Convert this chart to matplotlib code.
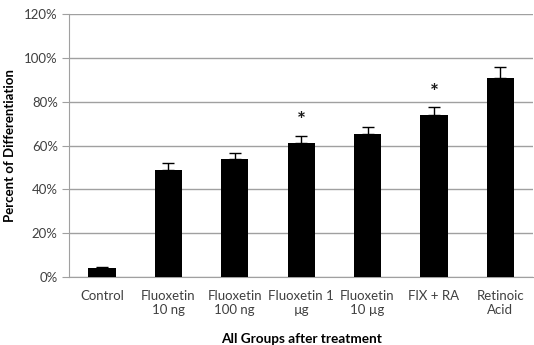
import numpy as np
import matplotlib.pyplot as plt

# Data
groups = ['Control', 'Fluoxetin\n10 ng', 'Fluoxetin\n100 ng', 'Fluoxetin 1\nµg',
          'Fluoxetin\n10 µg', 'FlX + RA', 'Retinoic\nAcid']
percent = [4.0, 48.9, 53.9, 61.0, 65.2, 74.1, 90.9]
errors = [0.5, 3.0, 2.9, 3.2, 3.3, 3.7, 4.9]
star_groups = ['Fluoxetin 1\nµg', 'FlX + RA']
star_pos = [71.4, 83.9]
yticks = [0, 20, 40, 60, 80, 100, 120]

plt.rcParams['font.family'] = ['Lato', 'DejaVu Sans']

fig = plt.figure(figsize=(5.34, 3.45), dpi=100)
ax = fig.add_axes([0.129, 0.197, 0.87, 0.762])

x = np.arange(len(groups))
ax.bar(x, percent, width=0.41, color='black', zorder=3)
ax.errorbar(x, percent, yerr=[np.zeros(len(errors)), errors], fmt='none',
            ecolor='black', elinewidth=1, capsize=4, capthick=1, zorder=4)

for g, s in zip(star_groups, star_pos):
    ax.text(groups.index(g), s, '*', ha='center', va='center', fontsize=15,
            fontweight='bold', color='#1a1a1a')

ax.set_xlim(-0.5, len(groups) - 0.5)
ax.set_ylim(0, 120)
ax.set_yticks(yticks)
ax.set_yticklabels([f'{t}%' for t in yticks], fontsize=9.5, color='#404040')
ax.set_xticks(x)
ax.set_xticklabels(groups, fontsize=9.5, color='#404040', linespacing=1.25)
ax.tick_params(axis='x', length=0, pad=9)
ax.tick_params(axis='y', length=5, color='#a0a0a0', pad=3)

ax.grid(axis='y', color='#a0a0a0', linewidth=1, zorder=0)
for side in ['top', 'right']:
    ax.spines[side].set_visible(False)
for side in ['left', 'bottom']:
    ax.spines[side].set_color('#a0a0a0')

ax.set_ylabel('Percent of Differentiation', fontsize=9.5, fontweight='bold', labelpad=6)
ax.set_xlabel('All Groups after treatment', fontsize=9.8, fontweight='bold', labelpad=12)

fig.savefig('out.png', dpi=100)
